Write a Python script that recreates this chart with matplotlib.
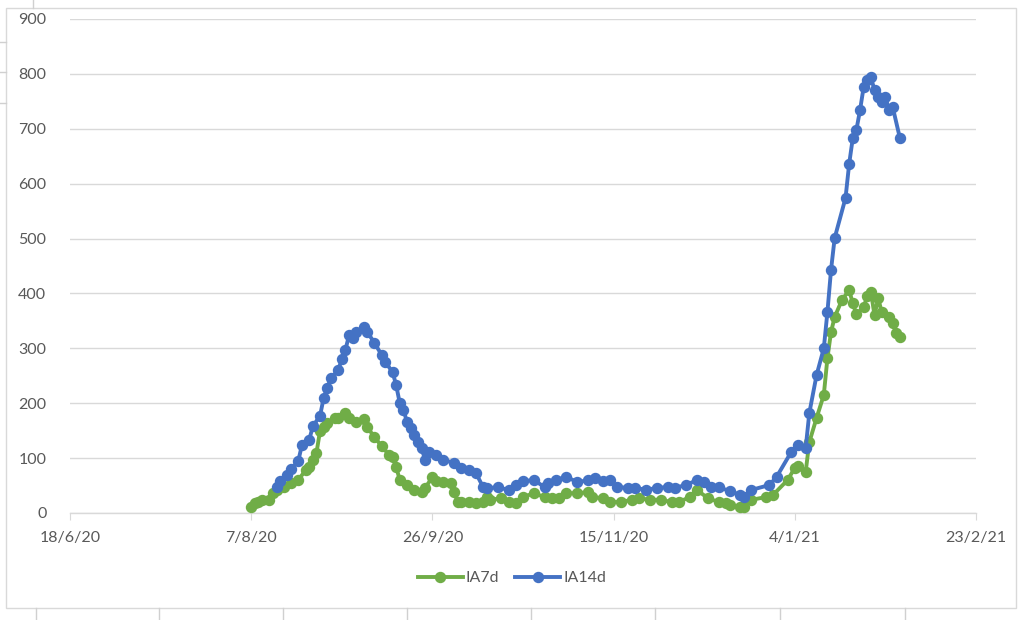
import matplotlib
matplotlib.use('Agg')
import matplotlib.pyplot as plt
from matplotlib.lines import Line2D
import pandas as pd

# IA7d (green)
ia7_dates = ['2020-08-07', '2020-08-08', '2020-08-09', '2020-08-10', '2020-08-12', '2020-08-13',
             '2020-08-14', '2020-08-16', '2020-08-18', '2020-08-20', '2020-08-22', '2020-08-23',
             '2020-08-24', '2020-08-25', '2020-08-26', '2020-08-27', '2020-08-28', '2020-08-30',
             '2020-08-31', '2020-09-02', '2020-09-03', '2020-09-05', '2020-09-07', '2020-09-08',
             '2020-09-10', '2020-09-12', '2020-09-14', '2020-09-15', '2020-09-16', '2020-09-17',
             '2020-09-19', '2020-09-21', '2020-09-23', '2020-09-24', '2020-09-26', '2020-09-27',
             '2020-09-29', '2020-10-01', '2020-10-02', '2020-10-03', '2020-10-04', '2020-10-06',
             '2020-10-08', '2020-10-10', '2020-10-11', '2020-10-12', '2020-10-15', '2020-10-17',
             '2020-10-19', '2020-10-21', '2020-10-24', '2020-10-27', '2020-10-29', '2020-10-31',
             '2020-11-02', '2020-11-05', '2020-11-08', '2020-11-09', '2020-11-12', '2020-11-14',
             '2020-11-17', '2020-11-20', '2020-11-22', '2020-11-25', '2020-11-28', '2020-12-01',
             '2020-12-03', '2020-12-06', '2020-12-08', '2020-12-11', '2020-12-14', '2020-12-16',
             '2020-12-17', '2020-12-20', '2020-12-21', '2020-12-23', '2020-12-27', '2020-12-29',
             '2021-01-02', '2021-01-04', '2021-01-05', '2021-01-07', '2021-01-08', '2021-01-10',
             '2021-01-12', '2021-01-13', '2021-01-14', '2021-01-15', '2021-01-17', '2021-01-19',
             '2021-01-20', '2021-01-21', '2021-01-23', '2021-01-24', '2021-01-25', '2021-01-26',
             '2021-01-27', '2021-01-28', '2021-01-30', '2021-01-31', '2021-02-01', '2021-02-02']
ia7_vals = [11, 18, 20, 24, 24, 36,
            42, 47, 55, 60, 78, 84,
            97, 109, 150, 157, 164, 173,
            173, 182, 173, 166, 172, 157,
            138, 122, 106, 102, 84, 60,
            51, 42, 38, 46, 65, 58,
            56, 55, 38, 20, 20, 20,
            18, 20, 29, 24, 27, 20,
            18, 29, 36, 29, 27, 27,
            36, 36, 38, 29, 27, 20,
            20, 24, 27, 24, 24, 20,
            20, 29, 42, 27, 20, 18,
            15, 11, 11, 24, 29, 33,
            60, 82, 86, 75, 129, 173,
            215, 282, 330, 357, 388, 406,
            382, 362, 375, 395, 403, 360,
            391, 366, 357, 346, 328, 320]

# IA14d (blue)
ia14_dates = ['2020-08-14', '2020-08-15', '2020-08-17', '2020-08-18', '2020-08-20', '2020-08-21',
              '2020-08-23', '2020-08-24', '2020-08-26', '2020-08-27', '2020-08-28', '2020-08-29',
              '2020-08-31', '2020-09-01', '2020-09-02', '2020-09-03', '2020-09-04', '2020-09-05',
              '2020-09-07', '2020-09-08', '2020-09-10', '2020-09-12', '2020-09-13', '2020-09-15',
              '2020-09-16', '2020-09-17', '2020-09-18', '2020-09-19', '2020-09-20', '2020-09-21',
              '2020-09-22', '2020-09-23', '2020-09-24', '2020-09-25', '2020-09-27', '2020-09-29',
              '2020-10-02', '2020-10-04', '2020-10-06', '2020-10-08', '2020-10-10', '2020-10-11',
              '2020-10-14', '2020-10-17', '2020-10-19', '2020-10-21', '2020-10-24', '2020-10-27',
              '2020-10-28', '2020-10-30', '2020-11-02', '2020-11-05', '2020-11-08', '2020-11-10',
              '2020-11-12', '2020-11-14', '2020-11-16', '2020-11-19', '2020-11-21', '2020-11-24',
              '2020-11-27', '2020-11-30', '2020-12-02', '2020-12-05', '2020-12-08', '2020-12-10',
              '2020-12-12', '2020-12-14', '2020-12-17', '2020-12-20', '2020-12-21', '2020-12-23',
              '2020-12-28', '2020-12-30', '2021-01-03', '2021-01-05', '2021-01-07', '2021-01-08',
              '2021-01-10', '2021-01-12', '2021-01-13', '2021-01-14', '2021-01-15', '2021-01-18',
              '2021-01-19', '2021-01-20', '2021-01-21', '2021-01-22', '2021-01-23', '2021-01-24',
              '2021-01-25', '2021-01-26', '2021-01-27', '2021-01-28', '2021-01-29', '2021-01-30',
              '2021-01-31', '2021-02-02']
ia14_vals = [47, 58, 70, 80, 95, 124,
             133, 158, 177, 210, 228, 246,
             260, 280, 297, 324, 319, 330,
             339, 330, 310, 288, 275, 257,
             233, 200, 188, 166, 155, 142,
             129, 118, 97, 111, 106, 97,
             91, 82, 78, 73, 47, 45,
             47, 42, 51, 58, 60, 47,
             55, 60, 66, 56, 60, 64,
             58, 60, 47, 46, 46, 42,
             46, 47, 46, 51, 60, 56,
             47, 47, 40, 33, 29, 42,
             51, 66, 111, 124, 118, 182,
             251, 300, 366, 443, 501, 574,
             636, 683, 698, 734, 776, 789,
             794, 770, 758, 749, 758, 734,
             740, 683]

green = '#70AD47'
blue = '#4472C4'
grid_col = '#D9D9D9'
text_col = '#595959'

plt.rcParams['font.family'] = ['Lato', 'DejaVu Sans']

fig = plt.figure(figsize=(10.24, 6.2), dpi=100)
fig.patch.set_facecolor('white')

# spreadsheet cell lines behind the chart (screenshot look)
for xp in [36, 159, 283, 407, 531, 655, 780, 905]:
    fig.add_artist(Line2D([xp / 1024, xp / 1024], [0, 12 / 620], color='#D0D0D0', lw=1))
fig.add_artist(Line2D([33 / 1024, 33 / 1024], [612 / 620, 1], color='#D0D0D0', lw=1))
for yp in [42, 72, 103]:
    fig.add_artist(Line2D([0, 6 / 1024], [1 - yp / 620, 1 - yp / 620], color='#D0D0D0', lw=1))
# chart border
fig.add_artist(plt.Rectangle((6 / 1024, 12 / 620), 1010 / 1024, 600 / 620, fill=False,
                             edgecolor='#D9D9D9', lw=1, transform=fig.transFigure))

ax = fig.add_axes([70 / 1024, 1 - 513 / 620, 906 / 1024, 494 / 620])

x7 = pd.to_datetime(ia7_dates)
x14 = pd.to_datetime(ia14_dates)
ax.plot(x7, ia7_vals, color=green, lw=2.8, marker='o', markersize=7.2, label='IA7d', zorder=3)
ax.plot(x14, ia14_vals, color=blue, lw=2.8, marker='o', markersize=7.2, label='IA14d', zorder=4)

start = pd.Timestamp('2020-06-18')
ticks = [start + pd.Timedelta(days=50 * i) for i in range(6)]
ax.set_xlim(ticks[0], ticks[-1])
ax.set_xticks(ticks)
ax.set_xticklabels([f'{t.day}/{t.month}/{t.year % 100}' for t in ticks])
ax.set_ylim(0, 900)
ax.set_yticks(range(0, 901, 100))

ax.grid(axis='y', color=grid_col, lw=1)
ax.set_axisbelow(True)
for s in ['top', 'right', 'left']:
    ax.spines[s].set_visible(False)
ax.spines['bottom'].set_color(grid_col)
ax.spines['bottom'].set_linewidth(1)
ax.tick_params(axis='y', length=0, pad=17, labelsize=11.5, labelcolor=text_col)
ax.tick_params(axis='x', length=5, color=grid_col, pad=8, labelsize=11.5, labelcolor=text_col)

leg = fig.legend(loc='center', bbox_to_anchor=(512 / 1024, 1 - 578 / 620), ncol=2, frameon=False,
                 fontsize=11.5, handlelength=2.8, columnspacing=1.0, handletextpad=0.2)
for t in leg.get_texts():
    t.set_color(text_col)

fig.savefig('out.png', dpi=100, facecolor='white')
